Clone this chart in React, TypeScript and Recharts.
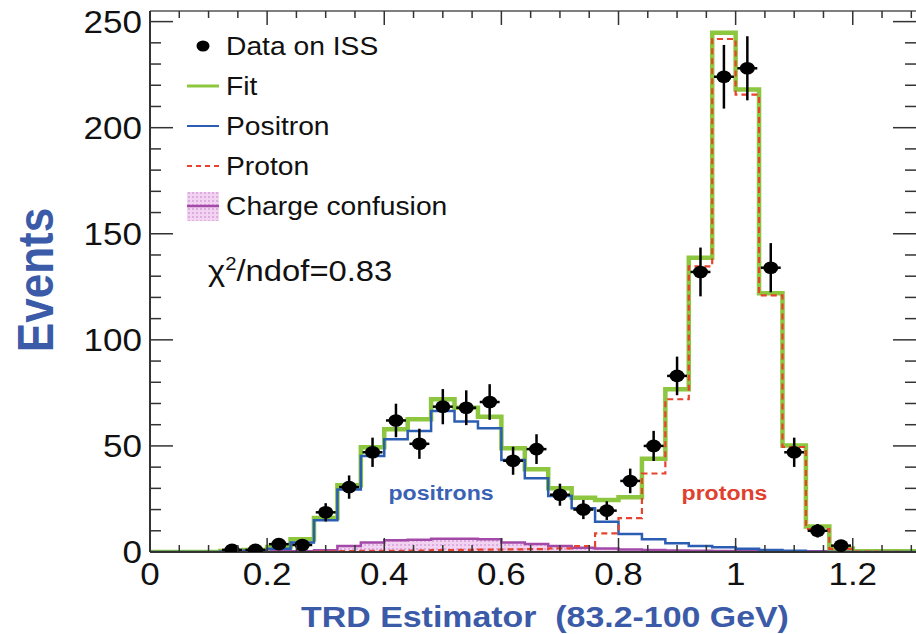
import { ComposedChart, Line, Area, Scatter, ErrorBar, XAxis, YAxis, ReferenceLine, ReferenceDot, Legend } from 'recharts'

// histogram bin edges (width 0.04) and per-bin heights
const binEdges = [0, 0.04, 0.08, 0.12, 0.16, 0.2, 0.24, 0.28, 0.32, 0.36, 0.4, 0.44, 0.48, 0.52, 0.56, 0.6, 0.64, 0.68, 0.72, 0.76, 0.8, 0.84, 0.88, 0.92, 0.96, 1, 1.04, 1.08, 1.12, 1.16, 1.2, 1.24, 1.28, 1.32]
const fitVals = [0, 0, 0, 0.5, 1, 2.4, 6, 16, 31.5, 49.4, 57.9, 62.6, 72, 68, 63.8, 48.9, 39, 30, 25.6, 24.5, 25.8, 43.9, 76.7, 138.7, 244.7, 218, 122, 50.2, 12, 1.7, 0.4, 0.3, 0.3]
const positronVals = [0, 0, 0, 0.2, 0.7, 1.5, 4.5, 15, 29.5, 45.3, 53.2, 57, 66.5, 61.5, 58.3, 43.4, 34.8, 26.4, 20.6, 14.3, 8.5, 6, 4.1, 2.8, 2.2, 1.5, 1, 0.6, 0, 0, 0, 0, 0]
const protonVals = [0, 0, 0, 0, 0, 0, 0, 0.3, 0.4, 0.5, 0.6, 0.7, 0.9, 1, 1.1, 1.2, 1.4, 1.7, 2.8, 8.8, 16, 37, 72, 134.6, 241.8, 215.6, 121, 49.5, 10.8, 1.5, 0.2, 0.1, 0]
const confusionVals = [0.3, 0.3, 0.3, 0.3, 0.3, 0.3, 0.4, 0.8, 2.8, 4.5, 5.5, 5.8, 6.3, 6.2, 6, 4.5, 3.8, 2.8, 2, 1.6, 1.2, 0.9, 0.7, 0.6, 0.5, 0.5, 0.4, 0.4, 0.3, 0.3, 0.3, 0.3, 0.3]

// ISS data points (bin centres), counts and statistical errors
const pointX = [0.14, 0.18, 0.22, 0.26, 0.3, 0.34, 0.38, 0.42, 0.46, 0.5, 0.54, 0.58, 0.62, 0.66, 0.7, 0.74, 0.78, 0.82, 0.86, 0.9, 0.94, 0.98, 1.02, 1.06, 1.1, 1.14, 1.18]
const pointY = [1, 1, 3.7, 3.3, 18.7, 30.6, 47, 62, 51, 68.5, 68, 70.7, 43, 48.5, 27, 20, 19.5, 33.5, 50, 83, 132, 224, 228, 134, 47, 10, 3]
const pointErr = [1, 1, 1.9, 1.8, 4.3, 5.5, 6.9, 7.9, 7.1, 8.3, 8.2, 8.4, 6.6, 7, 5.2, 4.5, 4.4, 5.8, 7.1, 9.1, 11.5, 15, 15.1, 11.6, 6.9, 3.2, 1.7]
const X_ERR = 0.017

// axis ticks
const xTicks = [0, 0.05, 0.1, 0.15, 0.2, 0.25, 0.3, 0.35, 0.4, 0.45, 0.5, 0.55, 0.6, 0.65, 0.7, 0.75, 0.8, 0.85, 0.9, 0.95, 1, 1.05, 1.1, 1.15, 1.2, 1.25, 1.3]
const xMajor = [0, 0.2, 0.4, 0.6, 0.8, 1, 1.2]
const xTickLabels = ['0', '0.2', '0.4', '0.6', '0.8', '1', '1.2']
const yTicks = [0, 10, 20, 30, 40, 50, 60, 70, 80, 90, 100, 110, 120, 130, 140, 150, 160, 170, 180, 190, 200, 210, 220, 230, 240, 250]
const yMajor = [0, 50, 100, 150, 200, 250]
const yTickLabels = ['0', '50', '100', '150', '200', '250']

const legendLabels = ['Data on ISS', 'Fit', 'Positron', 'Proton', 'Charge confusion']

const W = 916
const H = 634
const PLOT_LEFT = 150
const PLOT_TOP = 11
const PLOT_BOTTOM = 552
const PLOT_RIGHT = 916
const Y_AXIS_W = 60
const X_AXIS_H = 30
const X_MAX = 1.308
const Y_MAX = 255

const FONT = '"Liberation Sans", Arial, Helvetica, sans-serif'
const AXIS = '#333'
const TITLE_BLUE = '#3b5aa8'
const GREEN = '#8dc63f'
const BLUE = '#2b5db2'
const RED = '#e8432e'
const PURPLE = '#a34aa8'

const histRows = binEdges.map((x, i) => {
  const k = Math.min(i, fitVals.length - 1)
  return { x, fit: fitVals[k], pos: positronVals[k], pro: protonVals[k], cc: confusionVals[k] }
})

const points = pointX.map((x, i) => ({ x, y: pointY[i], ey: pointErr[i], ex: X_ERR }))

function renderXTick(props: any) {
  const { x, payload } = props
  const v = payload.value
  const idx = xMajor.indexOf(v)
  const len = idx >= 0 ? 14 : 7
  return (
    <g>
      <line x1={x} x2={x} y1={PLOT_BOTTOM} y2={PLOT_BOTTOM - len} stroke={AXIS} strokeWidth={1.5} />
      <line x1={x} x2={x} y1={PLOT_TOP} y2={PLOT_TOP + len} stroke={AXIS} strokeWidth={1.5} />
      {idx >= 0 && (
        <text transform={`translate(${x},585) scale(1.13,1)`} textAnchor="middle" fontSize={31} fontFamily={FONT} fill="#111">
          {xTickLabels[idx]}
        </text>
      )}
    </g>
  )
}

function renderYTick(props: any) {
  const { y, payload } = props
  const v = payload.value
  const idx = yMajor.indexOf(v)
  const len = idx >= 0 ? 23 : 11
  return (
    <g>
      <line x1={PLOT_LEFT} x2={PLOT_LEFT + len} y1={y} y2={y} stroke={AXIS} strokeWidth={1.5} />
      <line x1={PLOT_RIGHT} x2={PLOT_RIGHT - len} y1={y} y2={y} stroke={AXIS} strokeWidth={1.5} />
      {idx >= 0 && (
        <text transform={`translate(142,${y + 11}) scale(1.13,1)`} textAnchor="end" fontSize={31} fontFamily={FONT} fill="#111">
          {yTickLabels[idx]}
        </text>
      )}
    </g>
  )
}

const renderXTitle = () => (
  <text transform="translate(545,627) scale(1.13,1)" textAnchor="middle" fontSize={30} fontWeight={700} fontFamily={FONT} fill={TITLE_BLUE}>
    TRD Estimator{'\u00a0\u00a0'}(83.2-100 GeV)
  </text>
)

const renderYTitle = () => (
  <text transform="translate(53,280) scale(1.13,1) rotate(-90)" textAnchor="middle" fontSize={44} fontWeight={700} fontFamily={FONT} fill={TITLE_BLUE}>
    Events
  </text>
)

const renderMarker = (p: any) => <ellipse cx={p.cx} cy={p.cy} rx={7.5} ry={6.3} fill="#000" />

const textLabel = (text: string, color: string) => (p: any) => (
  <text transform={`translate(${p.cx},${p.cy}) scale(1.1,1)`} textAnchor="middle" fontSize={21} fontWeight={700} fontFamily={FONT} fill={color}>
    {text}
  </text>
)

function renderLegend() {
  return (
    <svg width={470} height={300} style={{ display: 'block' }}>
      <defs>
        <pattern id="ccHatchLegend" width={4} height={4} patternUnits="userSpaceOnUse">
          <rect width={4} height={4} fill="#f2d4f2" />
          <circle cx={1} cy={1} r={0.8} fill="#c47cc8" />
        </pattern>
      </defs>
      {legendLabels.map((label, i) => {
        const cy = 46 + i * 40
        let icon = null
        if (i === 0) icon = <ellipse cx={203} cy={cy} rx={6.5} ry={5.5} fill="#000" />
        if (i === 1) icon = <line x1={187} x2={219} y1={cy} y2={cy} stroke={GREEN} strokeWidth={3} />
        if (i === 2) icon = <line x1={187} x2={219} y1={cy} y2={cy} stroke={BLUE} strokeWidth={2} />
        if (i === 3) icon = <line x1={187} x2={219} y1={cy} y2={cy} stroke={RED} strokeWidth={2} strokeDasharray="5 4" />
        if (i === 4)
          icon = (
            <g>
              <rect x={187} y={cy - 14} width={32} height={29} fill="url(#ccHatchLegend)" />
              <line x1={187} x2={219} y1={cy} y2={cy} stroke={PURPLE} strokeWidth={2.5} />
            </g>
          )
        return (
          <g key={label}>
            {icon}
            <text transform={`translate(226,${cy + 9}) scale(1.13,1)`} fontSize={25} fontFamily={FONT} fill="#111">
              {label}
            </text>
          </g>
        )
      })}
      <text transform="translate(208,281) scale(1.13,1)" fontSize={29} fontFamily={FONT} fill="#111">
        χ<tspan dy={-11} fontSize={18}>2</tspan>
        <tspan dy={11}>/ndof=0.83</tspan>
      </text>
    </svg>
  )
}

export default function App() {
  return (
    <div style={{ position: 'absolute', left: 0, top: 0, width: W, height: H, overflow: 'hidden', background: '#fff' }}>
      <ComposedChart
        width={W}
        height={H}
        data={histRows}
        margin={{ top: PLOT_TOP, right: W - PLOT_RIGHT, bottom: H - PLOT_BOTTOM - X_AXIS_H, left: PLOT_LEFT - Y_AXIS_W }}
      >
        <defs>
          <pattern id="ccHatch" width={4} height={4} patternUnits="userSpaceOnUse">
            <rect width={4} height={4} fill="#f2d4f2" />
            <circle cx={1} cy={1} r={0.8} fill="#c47cc8" />
          </pattern>
        </defs>
        <XAxis
          dataKey="x"
          type="number"
          domain={[0, X_MAX]}
          ticks={xTicks}
          interval={0}
          allowDataOverflow
          height={X_AXIS_H}
          tickLine={false}
          tick={renderXTick}
          axisLine={{ stroke: AXIS, strokeWidth: 2 }}
          label={renderXTitle}
        />
        <YAxis
          type="number"
          domain={[0, Y_MAX]}
          ticks={yTicks}
          interval={0}
          allowDataOverflow
          width={Y_AXIS_W}
          tickLine={false}
          tick={renderYTick}
          axisLine={{ stroke: AXIS, strokeWidth: 2 }}
          label={renderYTitle}
        />
        <ReferenceLine y={Y_MAX} stroke="#555" strokeWidth={1.5} />
        <Area type="stepAfter" dataKey="cc" stroke={PURPLE} strokeWidth={2.5} fill="url(#ccHatch)" fillOpacity={1} isAnimationActive={false} />
        <Line type="stepAfter" dataKey="fit" stroke={GREEN} strokeWidth={4.5} dot={false} activeDot={false} isAnimationActive={false} />
        <Line type="stepAfter" dataKey="pos" stroke={BLUE} strokeWidth={2.5} dot={false} activeDot={false} isAnimationActive={false} />
        <Line type="stepAfter" dataKey="pro" stroke={RED} strokeWidth={2.2} strokeDasharray="6 4" dot={false} activeDot={false} isAnimationActive={false} />
        <Scatter data={points} dataKey="y" shape={renderMarker} isAnimationActive={false}>
          <ErrorBar dataKey="ex" direction="x" width={0} stroke="#000" strokeWidth={2.5} />
          <ErrorBar dataKey="ey" direction="y" width={0} stroke="#000" strokeWidth={2.5} />
        </Scatter>
        <ReferenceDot x={0.497} y={24.5} r={0} shape={textLabel('positrons', '#3a62b4')} />
        <ReferenceDot x={0.981} y={24.5} r={0} shape={textLabel('protons', '#e0412f')} />
        <Legend layout="vertical" align="center" verticalAlign="middle" wrapperStyle={{ left: 0, top: 0 }} content={renderLegend} />
      </ComposedChart>
    </div>
  )
}
